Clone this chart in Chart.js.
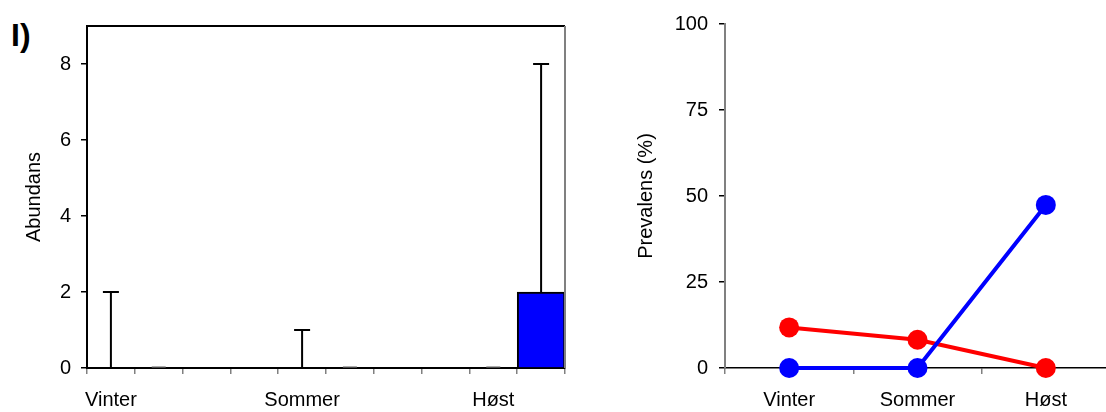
<!DOCTYPE html>
<html lang="no">
<head>
    <meta charset="UTF-8">
    <title>Abundans og prevalens</title>
    <script src="https://cdn.jsdelivr.net/npm/chart.js"></script>
    <style>
        html, body {
            margin: 0;
            padding: 0;
            background: #ffffff;
            overflow: hidden;
            width: 1106px;
            height: 412px;
            font-family: "Liberation Sans", Arial, sans-serif;
        }
        .panel-label {
            position: absolute;
            left: 11px;
            top: 19px;
            font-size: 32px;
            font-weight: bold;
            line-height: 1;
            color: #000;
        }
        #left-box {
            position: absolute;
            left: 0;
            top: 0;
            width: 600px;
            height: 412px;
        }
        #right-box {
            position: absolute;
            left: 600px;
            top: 0;
            width: 520px;
            height: 412px;
        }
    </style>
</head>
<body>
    <div class="panel-label">I)</div>
    <div id="left-box"><canvas id="abundance-chart"></canvas></div>
    <div id="right-box"><canvas id="prevalence-chart"></canvas></div>

    <script>
        const seasons = ["Vinter", "Sommer", "Høst"];

        // abundans: middel og øvre feilgrense (+SD)
        const abundRed = [0, 0, 0];
        const abundRedErr = [2, 1, 0];
        const abundBlue = [0, 0, 2];
        const abundBlueErr = [0, 0, 6];

        // prevalens i prosent
        const prevRed = [11.8, 8.2, 0];
        const prevBlue = [0, 0, 47.4];

        const abundTicks = [0, 2, 4, 6, 8];
        const prevTicks = [0, 25, 50, 75, 100];

        const FONT = { family: "'Liberation Sans', Arial, sans-serif", size: 20 };
        Chart.defaults.font.family = FONT.family;
        Chart.defaults.color = "#000";

        // 4 plasser per sesong (rød, blå, tom, tom), siste sesong uten tomme plasser
        const slotLabels = [];
        const redSlots = [], blueSlots = [], redErrSlots = [], blueErrSlots = [];
        seasons.forEach((s, i) => {
            slotLabels.push(s, "");
            redSlots.push(abundRed[i], null);
            blueSlots.push(null, abundBlue[i]);
            redErrSlots.push(abundRedErr[i], null);
            blueErrSlots.push(null, abundBlueErr[i]);
            if (i < seasons.length - 1) {
                slotLabels.push("", "");
                redSlots.push(null, null);
                blueSlots.push(null, null);
                redErrSlots.push(null, null);
                blueErrSlots.push(null, null);
            }
        });

        const errorBars = {
            id: "errorBars",
            afterDatasetsDraw(chart) {
                const ctx = chart.ctx;
                const y = chart.scales.y;
                ctx.save();
                chart.data.datasets.forEach((ds, di) => {
                    const meta = chart.getDatasetMeta(di);
                    ds.errors.forEach((err, i) => {
                        if (err === null || ds.data[i] === null) return;
                        const bar = meta.data[i];
                        const y0 = y.getPixelForValue(ds.data[i]);
                        const y1 = y.getPixelForValue(ds.data[i] + err);
                        ctx.strokeStyle = err === 0 ? "#777" : "#000";
                        ctx.lineWidth = err === 0 ? 1.2 : 2;
                        ctx.beginPath();
                        if (err > 0) {
                            ctx.moveTo(bar.x, y0);
                            ctx.lineTo(bar.x, y1);
                        }
                        const half = err === 0 ? 7 : 8;
                        ctx.moveTo(bar.x - half, y1 - (err === 0 ? 1 : 0));
                        ctx.lineTo(bar.x + half, y1 - (err === 0 ? 1 : 0));
                        ctx.stroke();
                    });
                });
                ctx.restore();
            }
        };

        const plotFrame = {
            id: "plotFrame",
            afterDraw(chart) {
                const { ctx, chartArea: a } = chart;
                ctx.save();
                ctx.lineWidth = 2;
                ctx.strokeStyle = "#000";
                ctx.beginPath();
                ctx.moveTo(a.left, a.top);
                ctx.lineTo(a.right, a.top);
                ctx.stroke();
                ctx.strokeStyle = "#808080";
                ctx.beginPath();
                ctx.moveTo(a.right, a.top);
                ctx.lineTo(a.right, a.bottom);
                ctx.stroke();
                ctx.restore();
            }
        };

        new Chart(document.getElementById("abundance-chart"), {
            type: "bar",
            data: {
                labels: slotLabels,
                datasets: [{
                    label: "Rød",
                    data: redSlots,
                    errors: redErrSlots,
                    backgroundColor: "#ff0000",
                    borderColor: "#000",
                    borderWidth: 2,
                    barPercentage: 1,
                    categoryPercentage: 1
                }, {
                    label: "Blå",
                    data: blueSlots,
                    errors: blueErrSlots,
                    backgroundColor: "#0000ff",
                    borderColor: "#000",
                    borderWidth: 2,
                    barPercentage: 1,
                    categoryPercentage: 1
                }]
            },
            options: {
                responsive: true,
                maintainAspectRatio: false,
                animation: false,
                layout: { padding: { top: 26, right: 35, left: 0, bottom: 0 } },
                plugins: { legend: { display: false }, tooltip: { enabled: false } },
                scales: {
                    x: {
                        stacked: true,
                        afterFit: s => { s.height = 44; },
                        border: { color: "#000", width: 2 },
                        grid: { drawOnChartArea: false, tickLength: 6, color: "#808080", lineWidth: 1.5, offset: true },
                        ticks: {
                            autoSkip: false, maxRotation: 0, padding: 14, font: FONT,
                            callback: (v, i) => slotLabels[i]
                        }
                    },
                    y: {
                        min: 0,
                        max: 9,
                        afterFit: s => { s.width = 87; },
                        afterBuildTicks: s => { s.ticks = abundTicks.map(v => ({ value: v })); },
                        border: { color: "#000", width: 2 },
                        grid: { drawOnChartArea: false, tickLength: 6, color: "#000", lineWidth: 1.5 },
                        ticks: { padding: 10, font: FONT },
                        title: {
                            display: true, text: "Abundans", font: FONT,
                            padding: { top: 22, bottom: 0 }
                        }
                    }
                }
            },
            plugins: [errorBars, plotFrame]
        });

        new Chart(document.getElementById("prevalence-chart"), {
            type: "line",
            data: {
                labels: seasons,
                datasets: [{
                    label: "Blå",
                    data: prevBlue,
                    borderColor: "#0000ff",
                    backgroundColor: "#0000ff",
                    borderWidth: 4,
                    pointRadius: 10,
                    pointBorderWidth: 0,
                    fill: false
                }, {
                    label: "Rød",
                    data: prevRed,
                    borderColor: "#ff0000",
                    backgroundColor: "#ff0000",
                    borderWidth: 4,
                    pointRadius: 10,
                    pointBorderWidth: 0,
                    fill: false
                }]
            },
            options: {
                responsive: true,
                maintainAspectRatio: false,
                animation: false,
                clip: false,
                layout: { padding: { top: 24, right: 8, left: 0, bottom: 0 } },
                plugins: { legend: { display: false }, tooltip: { enabled: false } },
                scales: {
                    x: {
                        offset: true,
                        afterFit: s => { s.height = 44; },
                        border: { color: "#000", width: 1.5 },
                        grid: { drawOnChartArea: false, tickLength: 6, color: "#808080", lineWidth: 1.5, offset: true },
                        ticks: { autoSkip: false, maxRotation: 0, padding: 14, font: FONT }
                    },
                    y: {
                        min: 0,
                        max: 100,
                        afterFit: s => { s.width = 125; },
                        afterBuildTicks: s => { s.ticks = prevTicks.map(v => ({ value: v })); },
                        border: { color: "#808080", width: 2 },
                        grid: { drawOnChartArea: false, tickLength: 6, color: "#000", lineWidth: 1.5 },
                        ticks: { padding: 11, font: FONT },
                        title: {
                            display: true, text: "Prevalens (%)", font: FONT,
                            padding: { top: 34, bottom: 0 }
                        }
                    }
                }
            }
        });
    </script>
</body>
</html>
